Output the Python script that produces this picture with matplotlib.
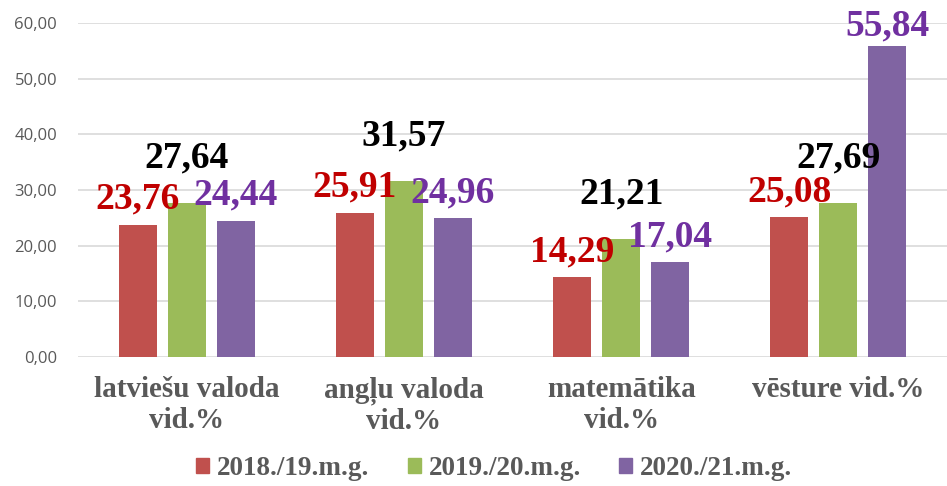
import numpy as np
import matplotlib
matplotlib.use("Agg")
import matplotlib.pyplot as plt
from matplotlib.patches import Patch

categories = ["latviešu valoda\nvid.%", "angļu valoda\nvid.%", "matemātika\nvid.%", "vēsture vid.%"]
series_names = ["2018./19.m.g.", "2019./20.m.g.", "2020./21.m.g."]
vals_2018 = [23.76, 25.91, 14.29, 25.08]
vals_2019 = [27.64, 31.57, 21.21, 27.69]
vals_2020 = [24.44, 24.96, 17.04, 55.84]
yticks = [0, 10, 20, 30, 40, 50, 60]

bar_colors = ["#C0504D", "#9BBB59", "#8064A2"]
label_colors = ["#C00000", "#000000", "#7030A0"]
label_offsets = [11.5, 25.5, 11.5]  # baseline above bar top, points, per series

fig = plt.figure(figsize=(9.47, 4.86), dpi=100)
ax = fig.add_axes([0.0824, 0.2654, 0.9176, 0.6873])

x = np.arange(len(categories))
width = 0.175
step = 0.226
serif = ["Liberation Serif", "DejaVu Serif"]

for i, vals in enumerate([vals_2018, vals_2019, vals_2020]):
    pos = x + (i - 1) * step
    ax.bar(pos, vals, width=width, color=bar_colors[i], zorder=2)
    for xp, v in zip(pos, vals):
        txt = f"{v:.2f}".replace(".", ",")
        off = label_offsets[i]
        if v > 50:
            off = 7.7  # pushed down so it stays inside the chart
        ax.annotate(txt, (xp, v), xytext=(0, off), textcoords="offset points",
                    ha="center", va="baseline", fontsize=27, fontweight="bold",
                    family=serif, color=label_colors[i], zorder=3,
                    annotation_clip=False)

ax.set_ylim(0, 60)
ax.set_xlim(-0.5, len(categories) - 0.5)
ax.set_yticks(yticks)
ax.set_yticklabels([f"{t:.2f}".replace(".", ",") for t in yticks],
                   fontsize=12, color="#595959", family=["Open Sans", "DejaVu Sans"])
ax.set_xticks(x)
ax.set_xticklabels(categories, fontsize=21, fontweight="bold", color="#595959",
                   family=serif, linespacing=1.15)
ax.tick_params(axis="both", length=0)
ax.tick_params(axis="x", pad=14)
ax.tick_params(axis="y", pad=15)
ax.grid(axis="y", color="#D9D9D9", linewidth=1.2, zorder=0)
for s in ax.spines.values():
    s.set_visible(False)

handles = [Patch(color=c) for c in bar_colors]
fig.legend(handles, series_names, loc="center", bbox_to_anchor=(0.522, 0.035), ncol=3,
           frameon=False, handlelength=0.48, handleheight=0.48, handletextpad=0.3,
           columnspacing=1.4, borderpad=0.1,
           prop={"family": serif, "weight": "bold", "size": 19.5}, labelcolor="#595959")

fig.savefig("out.png", dpi=100)
